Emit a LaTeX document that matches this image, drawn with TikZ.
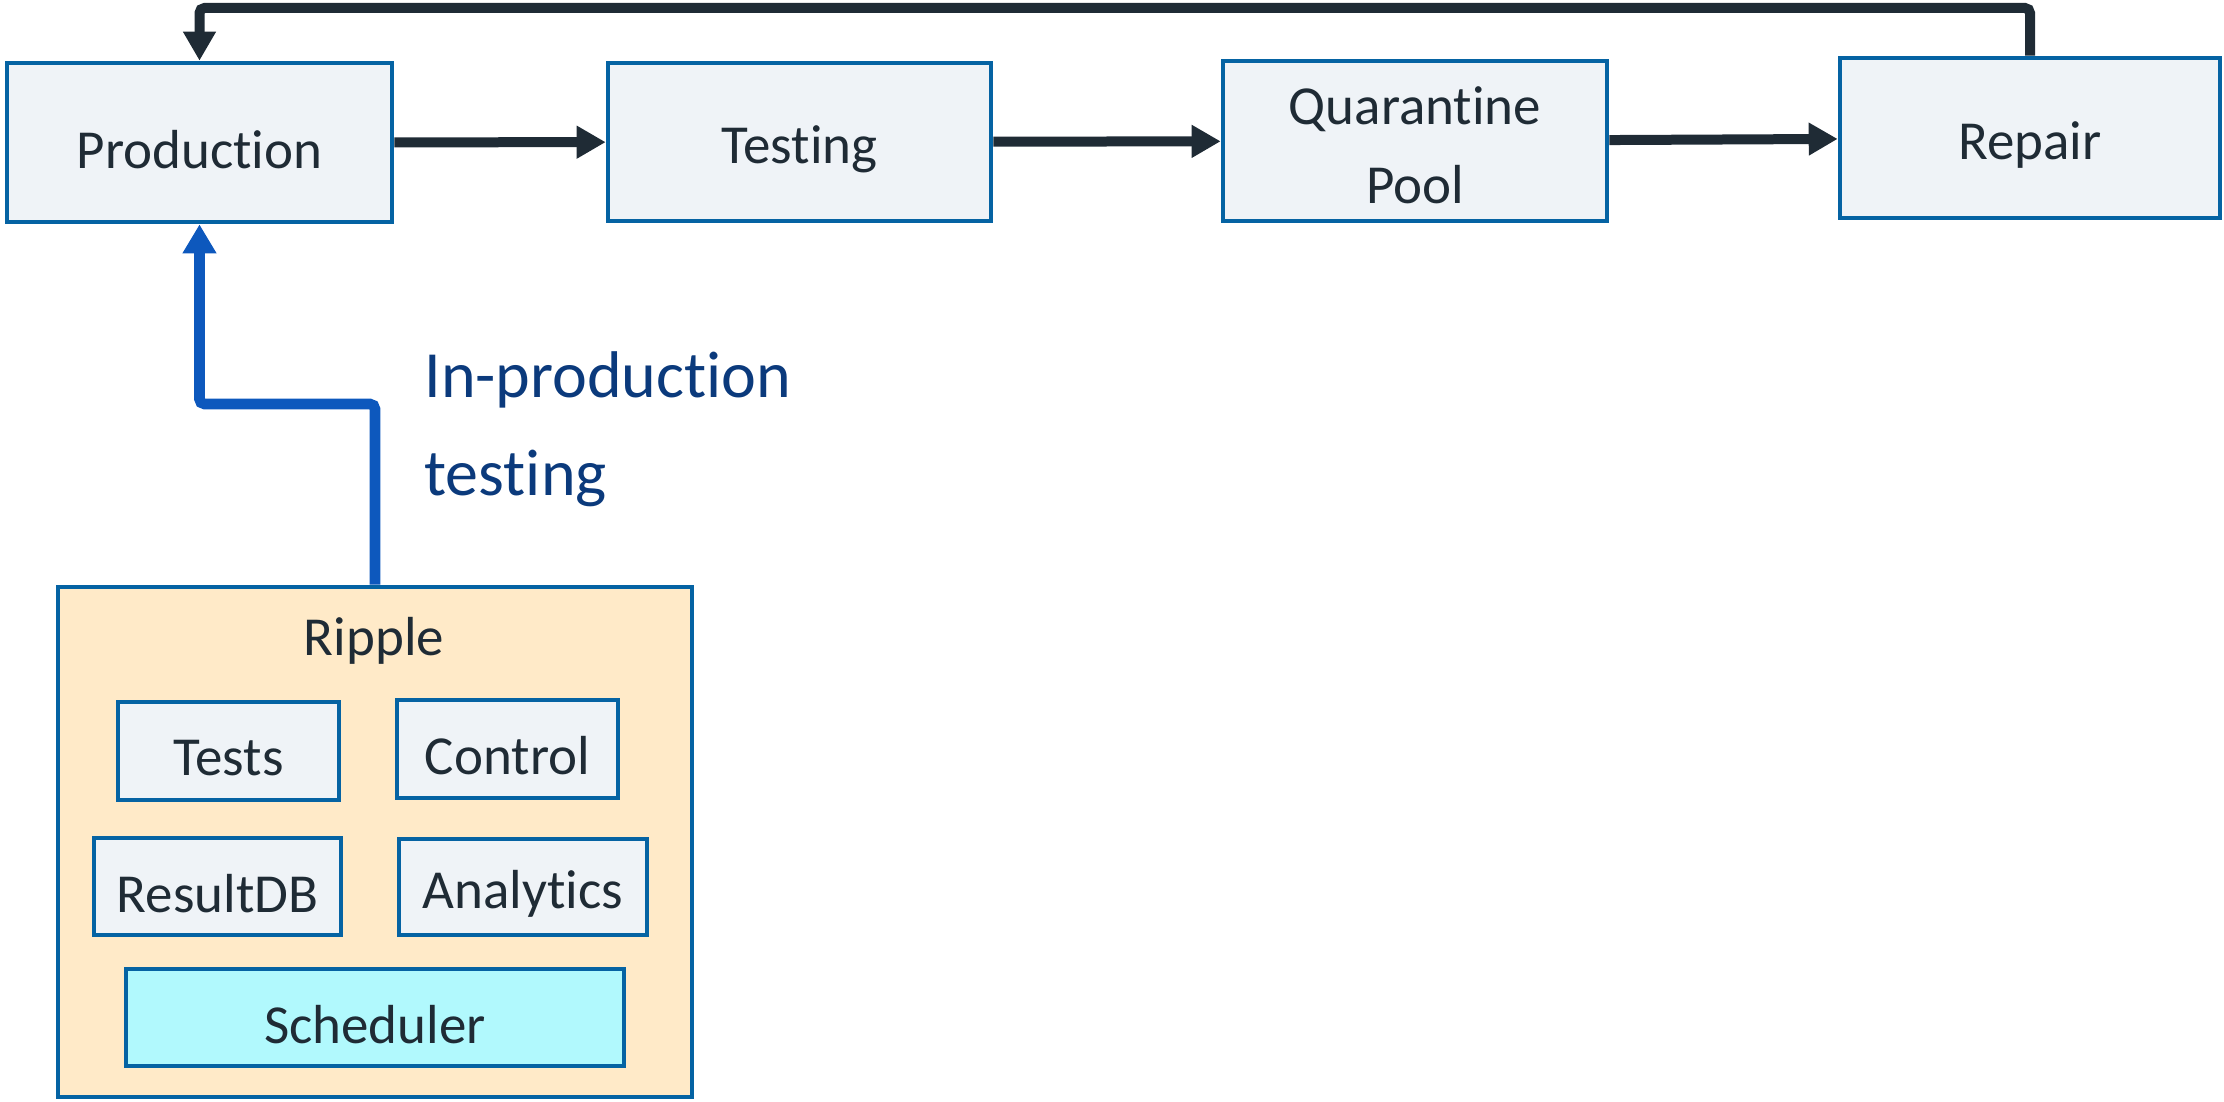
\documentclass[tikz,border=0pt]{standalone}
\usepackage{fontspec}
\setmainfont{Carlito}[RawFeature={-liga;-clig;-dlig;-calt}]
\usetikzlibrary{arrows.meta}
\definecolor{boxfill}{HTML}{EFF3F7}
\definecolor{boxdraw}{HTML}{0563A3}
\definecolor{ripplefill}{HTML}{FFEAC8}
\definecolor{schedfill}{HTML}{B1F9FD}
\definecolor{darkline}{HTML}{1F2B35}
\definecolor{bluearrow}{HTML}{0D58BD}
\definecolor{labelblue}{HTML}{0B3A7C}
\newcommand\lowtxt[1]{\raisebox{-3.5pt}[\height][\depth]{#1}}
\tikzset{
  box/.style={draw=boxdraw, fill=boxfill, line width=2.3pt, inner sep=0pt,
    text=darkline, align=center, font=\fontsize{27.5}{39.5}\selectfont},
  darrow/.style={draw=darkline, line width=5pt, rounded corners=2.5pt,
    -{Triangle[length=14.5pt,width=15.5pt]}},
  barrow/.style={draw=bluearrow, line width=5.3pt, rounded corners=2.5pt,
    -{Triangle[length=14.5pt,width=16pt]}},
}
\begin{document}
\begin{tikzpicture}[x=0.5pt,y=-0.5pt]
\useasboundingbox (0,0) rectangle (2224,1102);
% top row
\node[box, minimum width=192.5pt, minimum height=79.5pt] (prod) at (199.5,142.5) {\lowtxt{Production}};
\node[box, minimum width=191.5pt, minimum height=79pt] (test) at (799.5,142) {\lowtxt{Testing}};
\node[box, minimum width=192pt, minimum height=80pt] (quar) at (1415,141) {\lowtxt{\begin{tabular}{@{}c@{}}Quarantine\\Pool\end{tabular}}};
\node[box, minimum width=190pt, minimum height=80pt] (repair) at (2030,138) {\lowtxt{Repair}};
% Ripple
\node[box, fill=ripplefill, minimum width=317pt, minimum height=255pt] (ripple) at (375,842) {};
\node[text=darkline, font=\fontsize{27.5}{33}\selectfont, inner sep=0pt] (ripplelabel) at (374,641) {Ripple};
\node[box, minimum width=110.5pt, minimum height=49pt] (tests) at (228.5,751) {\lowtxt{Tests}};
\node[box, minimum width=110.5pt, minimum height=49pt] (control) at (507.5,749) {\lowtxt{Control}};
\node[box, minimum width=123.5pt, minimum height=48.5pt] (resultdb) at (217.5,886.5) {\lowtxt{ResultDB}};
\node[box, minimum width=124pt, minimum height=48pt] (analytics) at (523,887) {\lowtxt{Analytics}};
\node[box, fill=schedfill, minimum width=249pt, minimum height=48.5pt] (sched) at (375,1017.5) {\lowtxt{Scheduler}};
% label
\node[anchor=west, align=left, inner sep=0pt, text=labelblue,
  font=\fontsize{33}{49}\selectfont] (iplabel) at (424,429) {In-production\\testing};
% connectors
\draw[darrow] (prod) -- (test);
\draw[darrow] (test) -- (quar);
\draw[darrow] (quar) -- (repair);
\coordinate (topy) at (0,8);
\draw[darrow] (repair.north) -- (repair.north |- topy) -| (prod.north);
\coordinate (bendy) at (0,404);
\draw[barrow] (ripple.north) -- (ripple.north |- bendy) -| (prod.south);
\end{tikzpicture}
\end{document}
